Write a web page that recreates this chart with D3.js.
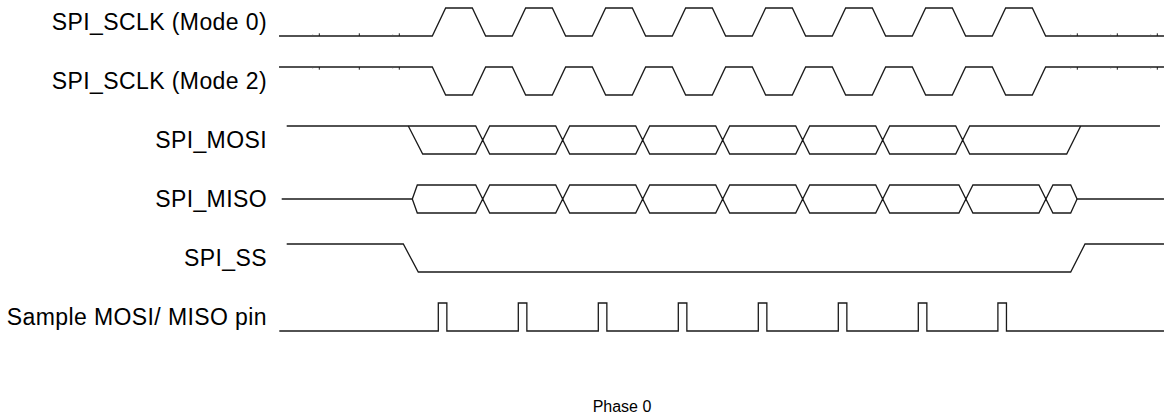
<!DOCTYPE html>
<html>
<head>
<meta charset="utf-8">
<script src="https://cdn.jsdelivr.net/npm/d3@7"></script>
<style>
	body { margin: 0; background: #fff; }
	svg text { font-family: Arial, 'Liberation Sans', sans-serif; fill: #000; }
</style>
</head>
<body>
<svg id="chart" width="1164" height="416"></svg>
<script>
// signal names, top to bottom
const signals = ['SPI_SCLK (Mode 0)', 'SPI_SCLK (Mode 2)', 'SPI_MOSI', 'SPI_MISO', 'SPI_SS', 'Sample MOSI/ MISO pin']
const caption = 'Phase 0'

// all times in clock periods, 0 = start of the first SCLK (mode 0) rising edge
const lineStart = [-1.916, -1.916, -1.82, -1.8825, -1.82, -1.9125]
const lineEnd = [9.146, 9.146, 9.096, 9.146, 9.146, 9.146]

const clockRise = [0, 1, 2, 3, 4, 5, 6, 7]
const clockShape = [[0, 0], [0.167, 1], [0.5, 1], [0.667, 0]]   // rise, high, fall inside one period
const clockTicks = [-1.4125, -0.9125, -0.4125, 8.0625, 8.5625, 9.0625]
const clockTicksSmall = [-1.495, -0.495, 7.98, 8.48, 8.98]

const mosiFirst = [-0.3, -0.12]      // leaves the idle (high) level
const mosiCross = [0.63, 1.63, 2.63, 3.63, 4.63, 5.63, 6.63]
const mosiLast = [7.93, 8.105]       // back to idle high
const misoOpen = [-0.25, -0.1875]
const misoCross = [0.63, 1.63, 2.63, 3.63, 4.63, 5.63, 6.67, 7.67]
const misoClose = [7.98, 8.06]
const crossHalf = 0.0875

const ssFall = [-0.3625, -0.175]
const ssRise = [7.98, 8.159]

const samplePulses = [0.075, 1.075, 2.075, 3.075, 4.075, 5.075, 6.075, 7.07]
const pulseWidth = 0.107

let width = 1164, height = 416
let svg = d3.select('#chart')

let x = d3.scaleLinear().domain([0, 8]).range([432.3, 1072.3])
let row = d3.scalePoint().domain(signals).range([22, 317])
let level = d3.scaleLinear().domain([0, 1]).range([14, -14])

function wave(name) {
	return d3.line()
		.x(d => x(d[0]))
		.y(d => row(name) + level(d[1]))
}

function draw(name, pts) {
	svg.append('path')
		.attr('d', wave(name)(pts))
		.attr('fill', 'none')
		.attr('stroke', '#1a1a1a')
		.attr('stroke-width', 1.3)
		.attr('stroke-linejoin', 'miter')
}

// crossing points of a bus: goes to the middle at every crossing
function crossings(list, lvl) {
	return list.flatMap(c => [[c - crossHalf, lvl], [c, 0.5], [c + crossHalf, lvl]])
}

// labels
svg.append('g').selectAll('text')
	.data(signals)
	.join('text')
	.attr('x', 267)
	.attr('y', d => row(d) + 7.8)
	.attr('text-anchor', 'end')
	.attr('font-size', 23)
	.attr('letter-spacing', 0.4)
	.text(d => d)

// SCLK mode 0 and mode 2
let clk = clockRise.flatMap(k => clockShape.map(p => [k + p[0], p[1]]))
draw(signals[0], [[lineStart[0], 0], ...clk, [lineEnd[0], 0]])
draw(signals[1], [[lineStart[1], 1], ...clk.map(p => [p[0], 1 - p[1]]), [lineEnd[1], 1]])

// small ticks on the idle parts of the clocks
;[[signals[0], 0, -1], [signals[1], 1, 1]].forEach(([name, lvl, dir]) => {
	let y0 = row(name) + level(lvl)
	svg.append('g').selectAll('line.big')
		.data(clockTicks)
		.join('line')
		.attr('x1', d => x(d)).attr('x2', d => x(d))
		.attr('y1', y0).attr('y2', y0 + dir * 2.7)
		.attr('stroke', '#1a1a1a')
		.attr('stroke-width', 1)
	svg.append('g').selectAll('line.small')
		.data(clockTicksSmall)
		.join('line')
		.attr('x1', d => x(d)).attr('x2', d => x(d))
		.attr('y1', y0).attr('y2', y0 + dir * 1.3)
		.attr('stroke', '#555')
		.attr('stroke-width', 1)
})

// MOSI: upper line stays on the idle level, lower line carries the data cells
draw(signals[2], [[lineStart[2], 1], ...crossings(mosiCross, 1), [lineEnd[2], 1]])
draw(signals[2], [[mosiFirst[0], 1], [mosiFirst[1], 0], ...crossings(mosiCross, 0), [mosiLast[0], 0], [mosiLast[1], 1]])

// MISO: tri-state in the middle outside the transfer
draw(signals[3], [[lineStart[3], 0.5], [misoOpen[0], 0.5], [misoOpen[1], 1], ...crossings(misoCross, 1), [misoClose[0], 1], [misoClose[1], 0.5], [lineEnd[3], 0.5]])
draw(signals[3], [[misoOpen[0], 0.5], [misoOpen[1], 0], ...crossings(misoCross, 0), [misoClose[0], 0], [misoClose[1], 0.5]])

// SS
draw(signals[4], [[lineStart[4], 1], [ssFall[0], 1], [ssFall[1], 0], [ssRise[0], 0], [ssRise[1], 1], [lineEnd[4], 1]])

// sample strobes
let pulses = samplePulses.flatMap(p => [[p, 0], [p, 1], [p + pulseWidth, 1], [p + pulseWidth, 0]])
draw(signals[5], [[lineStart[5], 0], ...pulses, [lineEnd[5], 0]])

svg.append('text')
	.attr('x', 622)
	.attr('y', 411.5)
	.attr('text-anchor', 'middle')
	.attr('font-size', 16)
	.text(caption)
</script>
</body>
</html>
